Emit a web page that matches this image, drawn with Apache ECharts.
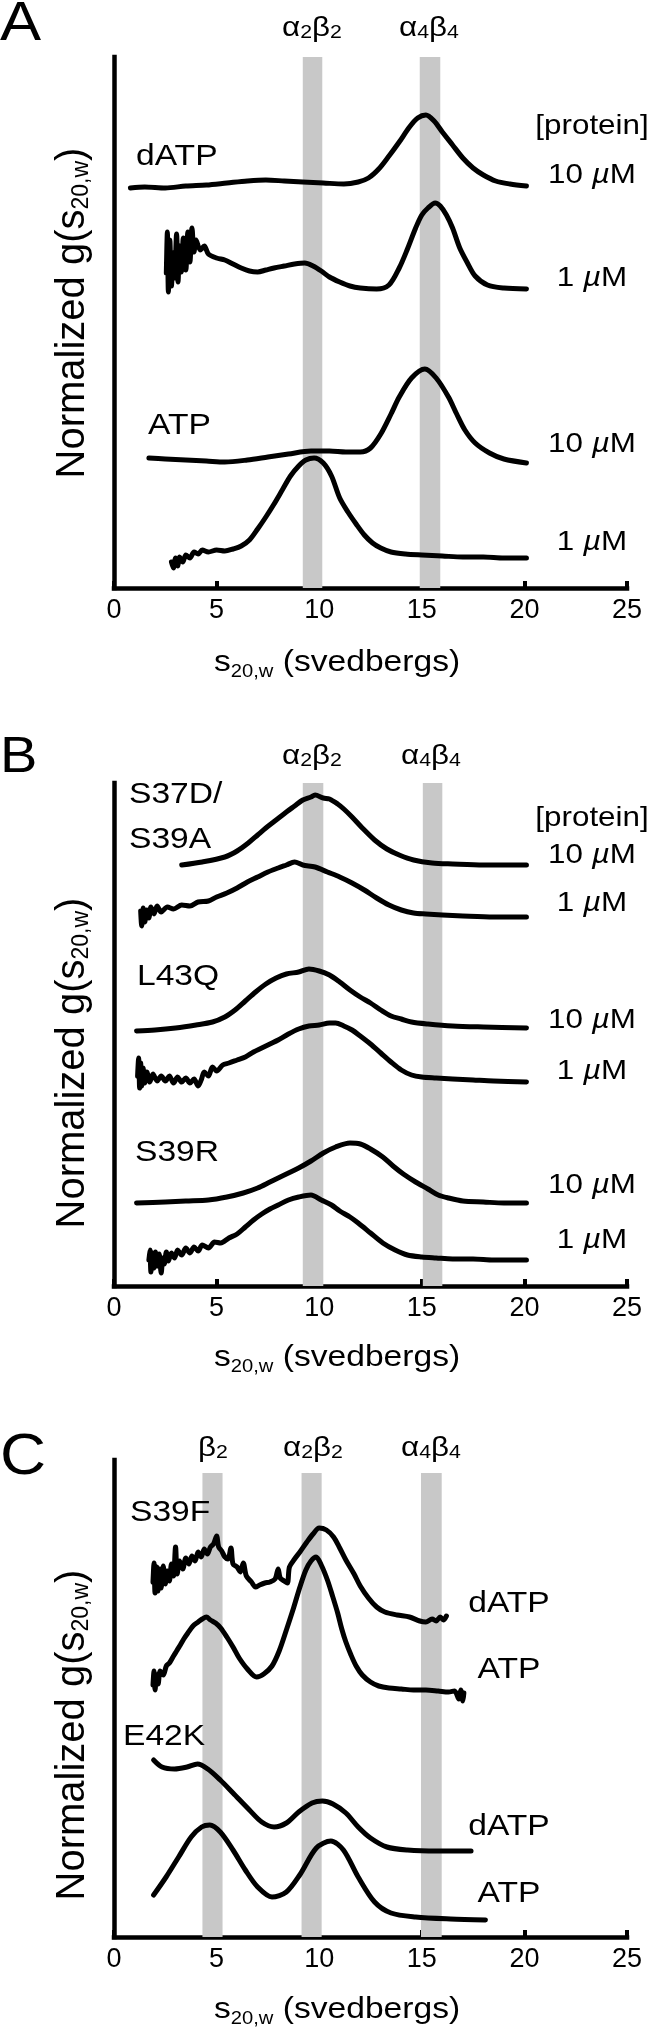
<!DOCTYPE html>
<html>
<head>
<meta charset="utf-8">
<script src="https://cdn.jsdelivr.net/npm/echarts@6/dist/echarts.min.js"></script>
<style>
  html, body { margin: 0; padding: 0; background: #fff; }
  #chart { width: 650px; height: 2035px; }
</style>
</head>
<body>
<div id="chart"></div>
<script>
// x = s20,w (svedbergs), y = normalized g(s) with each trace shifted up (arbitrary units)

// panel A
const aDatp10 = [[0.8,40.0],[1.5,40.1],[2.5,40.0],[3.5,40.2],[4.5,40.3],[5.5,40.5],[6.5,40.7],[7.4,40.8],[8.3,40.7],[9.2,40.6],[10.2,40.5],[11.2,40.4],[11.9,40.6],[12.4,41.0],[12.9,41.9],[13.4,43.2],[13.9,44.6],[14.4,46.1],[14.8,47.0],[15.2,47.3],[15.6,46.7],[16.0,45.6],[16.5,44.3],[17.0,43.0],[17.5,42.0],[18.0,41.3],[18.6,40.7],[19.3,40.4],[20.1,40.2]];
const aDatp1 = [[2.55,31.5],[2.6,35.6],[2.65,29.6],[2.72,34.8],[2.8,30.2],[2.88,33.5],[2.95,31.0],[3.05,35.4],[3.12,30.6],[3.2,34.2],[3.28,31.6],[3.38,35.0],[3.5,31.8],[3.6,35.6],[3.7,32.6],[3.8,36.0],[3.9,33.6],[4.0,34.8],[4.2,33.8],[4.4,34.2],[4.6,33.4],[5.0,33.0],[5.4,32.8],[5.8,32.4],[6.2,32.0],[6.6,31.7],[7.0,31.6],[7.4,31.8],[7.8,32.0],[8.3,32.2],[8.8,32.4],[9.3,32.5],[9.7,32.2],[10.1,31.7],[10.5,31.1],[11.0,30.6],[11.5,30.2],[12.0,30.0],[12.8,29.9],[13.4,30.3],[13.9,32.0],[14.3,33.9],[14.7,36.0],[15.0,37.3],[15.3,38.0],[15.65,38.5],[15.9,38.2],[16.2,37.3],[16.5,36.0],[16.85,34.0],[17.2,32.6],[17.6,31.2],[18.2,30.3],[19.0,30.0],[20.1,29.9]];
const aAtp10 = [[1.7,13.0],[2.5,12.9],[3.5,12.8],[4.5,12.7],[5.4,12.6],[6.5,12.8],[7.5,13.1],[8.5,13.4],[9.6,13.7],[10.5,13.7],[11.3,13.6],[12.0,13.6],[12.5,14.0],[13.0,15.4],[13.5,17.4],[13.9,19.1],[14.5,21.0],[15.15,21.9],[15.7,21.0],[16.3,19.1],[16.7,17.4],[17.1,15.8],[17.6,14.5],[18.3,13.5],[19.0,12.9],[20.1,12.5]];
const aAtp1 = [[2.8,2.6],[2.9,2.0],[3.0,3.0],[3.1,2.2],[3.2,3.1],[3.35,2.6],[3.5,3.3],[3.7,3.0],[3.9,3.6],[4.1,3.4],[4.3,3.8],[4.6,3.6],[5.0,3.8],[5.4,3.7],[5.8,3.9],[6.2,4.2],[6.6,4.8],[7.0,5.9],[7.4,7.1],[7.8,8.4],[8.2,9.8],[8.6,11.2],[9.0,12.2],[9.35,12.8],[9.75,13.0],[10.2,12.5],[10.6,11.2],[11.0,9.0],[11.4,7.6],[11.8,6.4],[12.2,5.3],[12.6,4.5],[13.0,4.0],[13.5,3.6],[14.2,3.4],[15.0,3.3],[16.0,3.2],[17.0,3.1],[18.0,3.1],[19.0,3.0],[20.1,3.0]];

// panel B
const bS37d10 = [[3.3,42.1],[4.3,42.4],[5.4,42.9],[6.0,43.5],[6.6,44.4],[7.0,45.1],[7.4,45.8],[7.9,46.6],[8.4,47.4],[8.8,48.0],[9.2,48.6],[9.6,48.9],[9.8,49.1],[10.2,48.8],[10.5,48.7],[10.9,48.2],[11.2,47.7],[11.6,46.9],[12.1,45.8],[12.7,44.6],[13.3,43.7],[13.9,43.1],[14.6,42.6],[15.5,42.3],[16.5,42.2],[18.0,42.1],[20.1,42.1]];
const bS37d1 = [[1.3,37.5],[1.35,36.0],[1.42,37.8],[1.5,36.4],[1.6,37.6],[1.7,36.8],[1.8,37.9],[1.95,37.2],[2.1,38.0],[2.3,37.4],[2.6,37.9],[2.9,37.7],[3.3,38.1],[3.7,38.0],[4.1,38.4],[4.6,38.5],[5.0,38.9],[5.5,39.3],[6.0,39.8],[6.5,40.4],[7.0,40.9],[7.5,41.4],[8.0,41.8],[8.4,42.1],[8.8,42.4],[9.2,42.1],[9.8,41.9],[10.4,41.4],[11.0,40.9],[11.6,40.3],[12.2,39.6],[12.8,38.8],[13.4,38.1],[14.0,37.6],[14.6,37.3],[15.2,37.2],[16.0,37.1],[17.0,37.0],[18.5,36.9],[20.1,36.9]];
const bL43q10 = [[1.1,25.5],[2.0,25.6],[3.0,25.8],[4.0,26.1],[4.8,26.4],[5.4,26.9],[5.9,27.6],[6.4,28.5],[6.9,29.4],[7.4,30.2],[7.9,30.8],[8.4,31.2],[9.0,31.4],[9.5,31.7],[10.0,31.5],[10.5,31.1],[11.0,30.4],[11.5,29.6],[12.0,28.9],[12.5,28.3],[13.0,27.6],[13.5,27.0],[14.0,26.7],[14.5,26.4],[15.3,26.2],[16.5,26.0],[18.0,25.9],[20.1,25.8]];
const bL43q1 = [[1.15,21.0],[1.2,22.8],[1.25,19.8],[1.3,22.3],[1.35,20.0],[1.42,21.8],[1.5,20.3],[1.6,21.4],[1.75,20.4],[1.9,21.2],[2.1,20.5],[2.3,21.0],[2.5,20.5],[2.7,21.0],[2.9,20.3],[3.1,20.9],[3.3,20.4],[3.5,20.8],[3.7,20.3],[3.9,20.7],[4.1,20.0],[4.25,20.6],[4.4,21.4],[4.6,21.0],[4.8,21.9],[5.0,21.5],[5.3,22.1],[5.6,22.3],[6.0,22.6],[6.4,22.9],[6.8,23.4],[7.2,23.8],[7.6,24.2],[8.0,24.6],[8.5,25.2],[9.0,25.7],[9.5,26.0],[10.0,26.1],[10.5,26.3],[10.8,26.3],[11.2,26.0],[11.6,25.6],[12.0,25.0],[12.5,24.2],[13.0,23.3],[13.5,22.4],[14.0,21.6],[14.5,21.1],[15.0,20.9],[15.7,20.8],[16.5,20.7],[17.5,20.6],[18.5,20.5],[20.1,20.4]];
const bS39r10 = [[1.1,8.3],[2.5,8.4],[3.5,8.5],[4.6,8.6],[5.5,8.9],[6.3,9.3],[7.0,9.8],[7.6,10.4],[8.2,11.0],[9.0,11.8],[9.6,12.5],[10.2,13.3],[10.8,13.9],[11.5,14.3],[12.0,14.2],[12.5,13.7],[13.1,12.9],[13.6,12.0],[14.1,11.2],[14.7,10.4],[15.3,9.7],[15.8,9.1],[16.3,8.8],[17.0,8.5],[18.0,8.4],[19.0,8.3],[20.1,8.3]];
const bS39r1 = [[1.7,2.6],[1.75,3.6],[1.8,1.4],[1.88,3.3],[1.95,1.8],[2.02,3.4],[2.1,2.0],[2.2,3.2],[2.3,1.3],[2.38,2.8],[2.45,2.2],[2.55,3.4],[2.65,2.5],[2.8,3.3],[2.95,2.8],[3.1,3.6],[3.3,3.1],[3.5,3.8],[3.7,3.3],[3.9,3.9],[4.1,3.5],[4.3,4.1],[4.6,3.8],[4.9,4.4],[5.2,4.3],[5.6,4.8],[6.0,5.2],[6.4,5.9],[6.8,6.6],[7.2,7.2],[7.6,7.7],[8.0,8.1],[8.5,8.6],[9.0,8.9],[9.6,9.1],[10.1,8.6],[10.6,8.1],[11.0,7.5],[11.5,6.9],[11.9,6.3],[12.5,5.3],[13.1,4.3],[13.7,3.6],[14.3,3.1],[15.0,2.9],[15.7,2.8],[16.5,2.7],[17.5,2.7],[18.5,2.6],[20.1,2.6]];

// panel C
const cS39fDatp = [[1.9,35.5],[1.95,37.4],[2.0,34.4],[2.08,37.0],[2.15,34.6],[2.22,36.8],[2.3,34.9],[2.4,37.1],[2.5,35.3],[2.6,36.6],[2.7,35.6],[2.8,37.3],[2.9,36.1],[3.0,39.0],[3.08,36.3],[3.2,37.6],[3.35,36.8],[3.5,37.9],[3.65,37.3],[3.8,38.1],[3.95,37.6],[4.1,38.5],[4.25,38.0],[4.4,38.8],[4.55,38.3],[4.7,39.0],[4.85,39.3],[5.0,40.1],[5.1,39.0],[5.25,38.6],[5.4,38.0],[5.55,37.8],[5.7,38.9],[5.8,37.3],[6.0,37.0],[6.15,36.5],[6.3,37.4],[6.45,36.1],[6.7,35.5],[6.9,35.0],[7.1,35.2],[7.35,35.4],[7.6,35.5],[7.85,35.8],[8.0,36.8],[8.1,35.9],[8.3,35.6],[8.45,35.4],[8.55,37.0],[8.8,37.8],[9.06,38.5],[9.4,39.5],[9.7,40.3],[10.0,40.9],[10.35,40.7],[10.7,40.0],[11.0,38.9],[11.3,37.7],[11.7,36.3],[12.0,35.1],[12.4,33.9],[12.8,33.0],[13.2,32.5],[13.8,32.2],[14.4,32.0],[14.9,31.6],[15.2,31.5],[15.5,31.8],[15.7,31.6],[15.9,32.0],[16.05,31.7],[16.2,32.1]];
const cS39fAtp = [[1.9,25.2],[1.95,26.6],[2.0,24.7],[2.08,26.2],[2.15,25.3],[2.25,26.6],[2.4,26.2],[2.55,27.1],[2.7,27.4],[2.9,28.1],[3.05,28.6],[3.2,29.1],[3.4,29.8],[3.6,30.4],[3.85,31.1],[4.1,31.5],[4.3,31.8],[4.5,32.0],[4.7,31.7],[4.95,31.4],[5.2,30.9],[5.5,30.0],[5.8,29.0],[6.1,27.9],[6.5,26.8],[6.95,26.0],[7.3,26.3],[7.7,27.1],[8.05,28.6],[8.4,30.7],[8.75,32.9],[9.06,35.0],[9.35,36.7],[9.6,37.6],[9.85,38.0],[10.1,37.2],[10.4,35.7],[10.65,34.1],[10.9,32.4],[11.1,30.8],[11.3,29.5],[11.55,28.2],[11.8,27.1],[12.1,26.2],[12.5,25.5],[12.9,25.1],[13.4,24.9],[14.0,24.8],[14.6,24.7],[15.2,24.7],[15.8,24.6],[16.3,24.5],[16.6,24.6],[16.8,23.8],[16.9,24.7],[17.0,23.6],[17.05,24.4]];
const cE42kDatp = [[1.93,17.7],[2.34,17.0],[2.95,16.8],[3.56,17.0],[4.07,17.3],[4.57,16.8],[5.18,15.7],[5.8,14.4],[6.6,12.7],[7.2,11.5],[7.8,11.0],[8.4,11.4],[9.0,12.5],[9.65,13.4],[10.16,13.6],[10.67,13.3],[11.3,12.4],[11.9,11.0],[12.5,9.9],[13.3,9.0],[14.3,8.7],[15.75,8.6],[17.4,8.6]];
const cE42kAtp = [[1.93,4.2],[2.54,6.0],[3.15,8.0],[3.76,10.0],[4.27,11.0],[4.67,11.2],[5.18,10.5],[5.8,8.7],[6.4,6.7],[7.0,5.0],[7.7,4.0],[8.4,4.5],[9.05,6.2],[9.86,8.9],[10.57,9.6],[11.18,8.7],[11.9,6.0],[12.7,3.5],[13.5,2.4],[14.7,2.0],[16.4,1.8],[18.1,1.7]];

// grey bands (s ranges) and their top in y units, y-axis tops
const bandsA = [[9.2, 10.15], [14.9, 15.9]];
const bandsB = [[9.2, 10.2], [15.05, 16.0]];
const bandsC = [[4.31, 5.29], [9.14, 10.12], [14.96, 15.97]];
const yTops = [53.1, 50.3, 47.7];
const bandTops = [53.1, 50.3, 46.4];

const FONT = '"Liberation Sans", Arial, Helvetica, sans-serif';
const SX = 1.12;

const chart = echarts.init(document.getElementById('chart'));

const gridBox = [
  { top: 57, height: 531 },
  { top: 783, height: 503 },
  { top: 1460, height: 477 }
];

const curves = [
  [aDatp10, 0], [aDatp1, 0], [aAtp10, 0], [aAtp1, 0],
  [bS37d10, 1], [bS37d1, 1], [bL43q10, 1], [bL43q1, 1], [bS39r10, 1], [bS39r1, 1],
  [cS39fDatp, 2], [cS39fAtp, 2], [cE42kDatp, 2], [cE42kAtp, 2]
];

const series = [];
[bandsA, bandsB, bandsC].forEach(function (bands, i) {
  series.push({
    type: 'line', xAxisIndex: i, yAxisIndex: i, data: [], z: 1, silent: true,
    markArea: {
      silent: true,
      label: { show: false },
      itemStyle: { color: '#c8c8c8', opacity: 1 },
      data: bands.map(function (b) {
        return [{ xAxis: b[0], yAxis: 0 }, { xAxis: b[1], yAxis: bandTops[i] }];
      })
    }
  });
});
curves.forEach(function (c) {
  series.push({
    type: 'line', xAxisIndex: c[1], yAxisIndex: c[1], data: c[0],
    showSymbol: false, symbol: 'none', z: 3, silent: true, smooth: 0.3,
    lineStyle: { color: '#000', width: 5, join: 'round', cap: 'round' }
  });
});

// text helpers
function txt(x, y, text, size, align) {
  return { type: 'text', x: x, y: y, z: 50, scaleX: SX, silent: true,
    style: { text: text, fontSize: size, fontFamily: FONT, fill: '#000',
      align: align || 'left', verticalAlign: 'middle' } };
}
function conc(x, y, num) {
  return { type: 'text', x: x, y: y, z: 50, scaleX: SX, silent: true,
    style: { text: '{n|' + num + ' }{i|\u00b5}{n|M}', align: 'center', verticalAlign: 'middle',
      rich: {
        n: { fontSize: 28, fontFamily: FONT, fill: '#000' },
        i: { fontSize: 28, fontFamily: FONT, fill: '#000', fontStyle: 'italic' }
      } } };
}
function greek(x, y, parts) {
  let s = '';
  parts.forEach(function (p) { s += '{g|' + p[0] + '}{d|' + p[1] + '}'; });
  return { type: 'text', x: x, y: y, z: 50, scaleX: SX, silent: true,
    style: { text: s, align: 'center', verticalAlign: 'middle',
      rich: {
        g: { fontSize: 28, lineHeight: 28, fontFamily: FONT, fill: '#000' },
        d: { fontSize: 19, lineHeight: 19, fontFamily: FONT, fill: '#000', verticalAlign: 'bottom' }
      } } };
}
function xTitle(y) {
  return { type: 'text', x: 214, y: y, z: 50, scaleX: SX, silent: true,
    style: { text: '{m|s}{d|20,w}{m| (svedbergs)}', align: 'left', verticalAlign: 'middle',
      rich: {
        m: { fontSize: 30, lineHeight: 36, fontFamily: FONT, fill: '#000' },
        d: { fontSize: 18, lineHeight: 18, fontFamily: FONT, fill: '#000', verticalAlign: 'bottom' }
      } } };
}
function yTitle(y) {
  return { type: 'text', x: 73, y: y, z: 50, rotation: Math.PI / 2, silent: true,
    style: { text: '{m|Normalized g(s}{d|20,w}{m|)}', align: 'center', verticalAlign: 'middle',
      rich: {
        m: { fontSize: 40, lineHeight: 40, fontFamily: FONT, fill: '#000' },
        d: { fontSize: 23, lineHeight: 23, fontFamily: FONT, fill: '#000', verticalAlign: 'bottom' }
      } } };
}

const a2b2 = [['\u03b1', '2'], ['\u03b2', '2']];
const a4b4 = [['\u03b1', '4'], ['\u03b2', '4']];
const RX = 592, RXC = 509;

const graphics = [
  // panel A
  txt(0, 25, 'A', 55),
  greek(312, 28, a2b2), greek(429, 28, a4b4),
  txt(136, 157, 'dATP', 30), txt(148, 426, 'ATP', 30),
  txt(RX, 126, '[protein]', 28, 'center'),
  conc(RX, 175, '10'), conc(RX, 278, '1'), conc(RX, 444, '10'), conc(RX, 542, '1'),
  yTitle(313), xTitle(663),
  // panel B
  txt(0, 758, 'B', 50),
  greek(312, 756, a2b2), greek(431, 756, a4b4),
  txt(129, 795, 'S37D/', 30), txt(129, 840, 'S39A', 30),
  txt(137, 977, 'L43Q', 30), txt(135, 1153, 'S39R', 30),
  txt(RX, 818, '[protein]', 28, 'center'),
  conc(RX, 855, '10'), conc(RX, 903, '1'), conc(RX, 1020, '10'), conc(RX, 1071, '1'),
  conc(RX, 1185, '10'), conc(RX, 1240, '1'),
  yTitle(1063), xTitle(1358),
  // panel C
  txt(0, 1458, 'C', 57),
  greek(213, 1448, [['\u03b2', '2']]), greek(313, 1448, a2b2), greek(431, 1448, a4b4),
  txt(130, 1513, 'S39F', 30), txt(123, 1737, 'E42K', 30),
  txt(RXC, 1604, 'dATP', 30, 'center'), txt(RXC, 1670, 'ATP', 30, 'center'),
  txt(RXC, 1827, 'dATP', 30, 'center'), txt(RXC, 1894, 'ATP', 30, 'center'),
  yTitle(1735), xTitle(2010)
];

const option = {
  animation: false,
  backgroundColor: '#fff',
  grid: gridBox.map(function (g) {
    return { left: 114, width: 513, top: g.top, height: g.height };
  }),
  xAxis: [0, 1, 2].map(function (i) {
    return {
      gridIndex: i, type: 'value', min: 0, max: 25, interval: 5,
      axisLine: { show: true, onZero: false, lineStyle: { color: '#000', width: 4.5, cap: 'square' } },
      axisTick: { show: true, inside: true, length: 7, lineStyle: { color: '#000', width: 4 } },
      axisLabel: { color: '#000', fontSize: 27, fontFamily: FONT, margin: 9 },
      splitLine: { show: false }
    };
  }),
  yAxis: yTops.map(function (t, i) {
    return {
      gridIndex: i, type: 'value', min: 0, max: t,
      axisLine: { show: true, onZero: false, lineStyle: { color: '#000', width: 4.5, cap: 'square' } },
      axisTick: { show: false }, axisLabel: { show: false }, splitLine: { show: false }
    };
  }),
  series: series,
  graphic: graphics
};

chart.setOption(option);
</script>
</body>
</html>
